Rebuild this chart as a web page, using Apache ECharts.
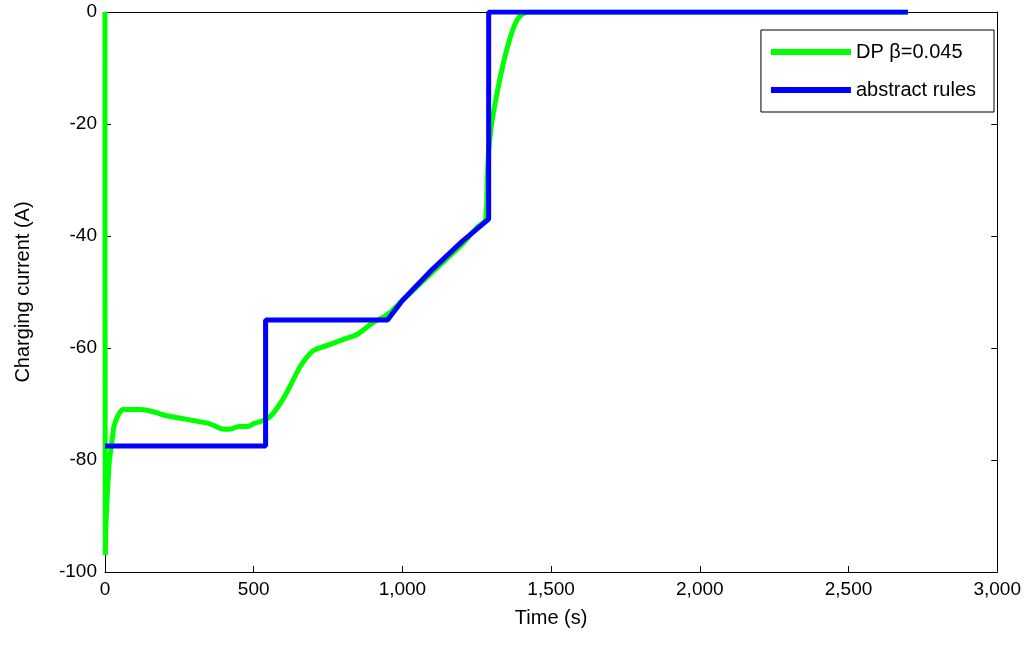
<!DOCTYPE html>
<html>
<head>
<meta charset="UTF-8">
<title>Charging current</title>
<script src="https://cdn.jsdelivr.net/npm/echarts@6/dist/echarts.min.js"></script>
<style>
    *{ margin: 0px; }
    #main{ width: 1024px; height: 647px; background: #fff; }
</style>
</head>
<body>
<div id="main"></div>
<script>
// DP curve (time s, current A)
var dpTime = [0, 1, 3, 6, 10, 15, 20, 25, 30, 40, 50, 60, 80, 120, 170, 200, 250, 300, 350, 400, 420, 450, 480, 500, 530, 560, 600, 630, 660, 700, 750, 800, 850, 900, 950, 1000, 1050, 1100, 1150, 1200, 1250, 1280, 1285, 1290, 1300, 1320, 1340, 1360, 1380, 1400, 1430, 1500, 2000, 2700];
var dpCurr = [0, -97, -92, -88, -84, -80, -78, -76, -74, -72.5, -71.5, -71, -71, -71, -71.5, -72, -72.5, -73, -73.5, -74.5, -74.5, -74, -74, -73.5, -73, -72, -69, -66, -63, -60.5, -59.5, -58.5, -57.5, -55.5, -54, -51.5, -49, -46.5, -44, -41.5, -38.5, -37, -30, -25, -20, -14, -9, -5, -2, -0.5, 0, 0, 0, 0];
// abstract rules curve
var ruleTime = [0, 540, 540, 950, 1000, 1100, 1200, 1290, 1290, 2700];
var ruleCurr = [-77.5, -77.5, -55, -55, -51.5, -46, -41, -37, 0, 0];

function pairs(xs, ys){
    return xs.map(function(x, i){ return [x, ys[i]]; });
}

var myChart = echarts.init(document.getElementById('main'));
var ax = {
    type: 'value',
    axisLine: { show: true, onZero: false, lineStyle: { color: '#000' } },
    axisTick: { show: true, inside: true, length: 6, lineStyle: { color: '#000' } },
    splitLine: { show: false },
    axisLabel: { color: '#000', fontSize: 19, fontFamily: 'Arial, Liberation Sans' }
};
var option = {
    animation: false,
    grid: { left: 105, right: 19, top: 12, bottom: 75 },
    legend: {
        orient: 'vertical', right: 30, top: 30,
        itemWidth: 80, itemHeight: 6, itemGap: 18,
        padding: [12, 18, 12, 10],
        borderColor: '#000', borderWidth: 1, backgroundColor: '#fff',
        textStyle: { fontSize: 20, color: '#000', fontFamily: 'Arial, Liberation Sans' },
        data: [
            { name: 'DP β=0.045', icon: 'rect' },
            { name: 'abstract rules', icon: 'rect' }
        ]
    },
    xAxis: [
        Object.assign({}, ax, { min: 0, max: 3000, interval: 500, name: 'Time (s)', nameLocation: 'middle', nameGap: 36,
            nameTextStyle: { fontSize: 20, color: '#000', fontFamily: 'Arial, Liberation Sans' } }),
        Object.assign({}, ax, { position: 'top', min: 0, max: 3000, interval: 500, axisTick: { show: false }, axisLabel: { show: false } })
    ],
    yAxis: [
        Object.assign({}, ax, { min: -100, max: 0, interval: 20, name: 'Charging current (A)', nameLocation: 'middle', nameGap: 72,
            nameTextStyle: { fontSize: 20, color: '#000', fontFamily: 'Arial, Liberation Sans' } }),
        Object.assign({}, ax, { position: 'right', min: -100, max: 0, interval: 20, axisLabel: { show: false } })
    ],
    series: [
        { name: 'DP β=0.045', type: 'line', data: pairs(dpTime, dpCurr), showSymbol: false, smooth: 0.3,
          lineStyle: { color: '#00ff00', width: 5 }, itemStyle: { color: '#00ff00' } },
        { name: 'abstract rules', type: 'line', data: pairs(ruleTime, ruleCurr), showSymbol: false,
          lineStyle: { color: '#0000ff', width: 5 }, itemStyle: { color: '#0000ff' } }
    ]
};
myChart.setOption(option);
</script>
</body>
</html>
